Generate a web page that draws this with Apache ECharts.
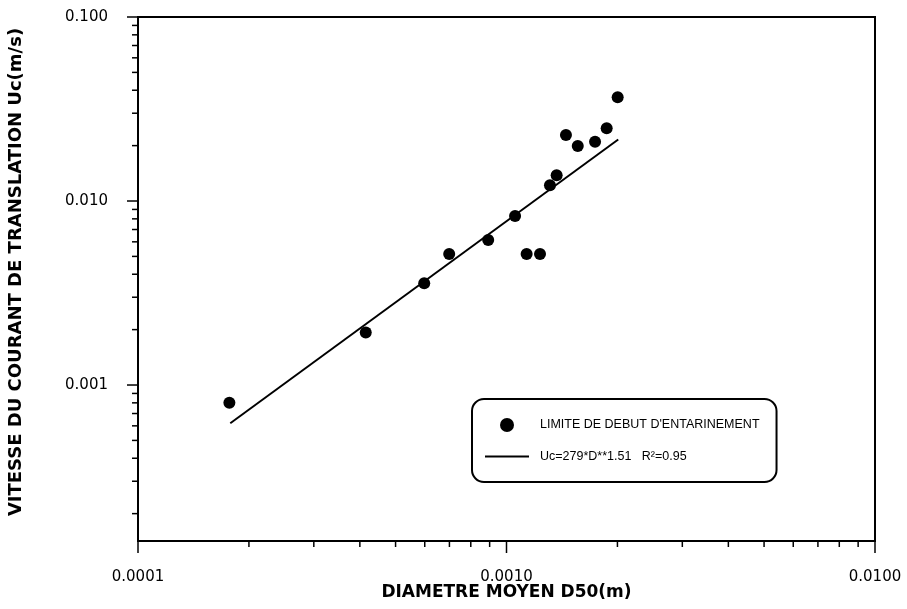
<!DOCTYPE html>
<html>
<head>
<meta charset="utf-8">
<script src="https://cdn.jsdelivr.net/npm/echarts@6/dist/echarts.min.js"></script>
<style>html,body{margin:0;padding:0;background:#fff}#c{width:907px;height:609px}</style>
</head>
<body>
<div id="c"></div>
<script>
// ---- data ----
const diameters = [0.000177, 0.000415, 0.000598, 0.000699, 0.000892, 0.001055, 0.001134, 0.001233, 0.001312, 0.001368, 0.00145, 0.001561, 0.001739, 0.00187, 0.002003];
const velocities = [0.00080, 0.00193, 0.00357, 0.00515, 0.00614, 0.00829, 0.00515, 0.00515, 0.01217, 0.01379, 0.02285, 0.01990, 0.02100, 0.02484, 0.03660];
const fitD = [0.000178, 0.00201];
const fitU = [0.00062, 0.0216];
const X_RANGE = [0.0001, 0.01];
const Y_RANGE = [0.000142, 0.1];
const X_MAJOR = [0.0001, 0.001, 0.01];
const X_MINOR = [0.0002, 0.0003, 0.0004, 0.0005, 0.0006, 0.0007, 0.0008, 0.0009,
                 0.002, 0.003, 0.004, 0.005, 0.006, 0.007, 0.008, 0.009];
const Y_MAJOR = [0.001, 0.01, 0.1];
const Y_MINOR = [0.0002, 0.0003, 0.0004, 0.0005, 0.0006, 0.0007, 0.0008, 0.0009,
                 0.002, 0.003, 0.004, 0.005, 0.006, 0.007, 0.008, 0.009,
                 0.02, 0.03, 0.04, 0.05, 0.06, 0.07, 0.08, 0.09];
const X_LABEL_DIGITS = 4;
const Y_LABEL_DIGITS = 3;
const SCATTER_NAME = "LIMITE DE DEBUT D'ENTARINEMENT";
const FIT_NAME = "Uc=279*D**1.51   R²=0.95";
const X_TITLE = "DIAMETRE MOYEN D50(m)";
const Y_TITLE = "VITESSE DU COURANT DE TRANSLATION Uc(m/s)";

const chart = echarts.init(document.getElementById('c'), null, {renderer: 'canvas'});

function xTickSeries(values, len) {
  return {
    type: 'custom', silent: true, clip: false, legendHoverLink: false,
    data: values.map(v => [v, Y_RANGE[0]]),
    renderItem: function (params, api) {
      const p = api.coord([api.value(0), api.value(1)]);
      return {type: 'line', shape: {x1: p[0], y1: p[1], x2: p[0], y2: p[1] + len},
              style: {stroke: '#000', lineWidth: 1.5}};
    },
    z: 5
  };
}
function yTickSeries(values, len) {
  return {
    type: 'custom', silent: true, clip: false, legendHoverLink: false,
    data: values.map(v => [X_RANGE[0], v]),
    renderItem: function (params, api) {
      const p = api.coord([api.value(0), api.value(1)]);
      return {type: 'line', shape: {x1: p[0], y1: p[1], x2: p[0] - len, y2: p[1]},
              style: {stroke: '#000', lineWidth: 1.5}};
    },
    z: 5
  };
}

const labelFont = {color: '#000', fontFamily: 'DejaVu Sans', fontSize: 15};

chart.setOption({
  animation: false,
  backgroundColor: '#fff',
  grid: {left: 138, right: 32, top: 17, bottom: 68, containLabel: false, outerBoundsMode: 'none',
         show: true, borderColor: '#000', borderWidth: 2, backgroundColor: 'transparent'},
  xAxis: {
    type: 'log', logBase: 10, min: X_RANGE[0], max: X_RANGE[1],
    axisLine: {lineStyle: {color: '#000', width: 2}},
    axisTick: {show: false}, splitLine: {show: false}, minorTick: {show: false},
    axisLabel: Object.assign({margin: 29, formatter: v => Number(v).toFixed(X_LABEL_DIGITS)}, labelFont),
    name: X_TITLE, nameLocation: 'middle', nameGap: 43, nameMoveOverlap: false,
    nameTextStyle: {color: '#000', fontFamily: 'DejaVu Sans', fontWeight: 'bold', fontSize: 17}
  },
  yAxis: {
    type: 'log', logBase: 10, min: Y_RANGE[0], max: Y_RANGE[1],
    axisLine: {lineStyle: {color: '#000', width: 2}},
    axisTick: {show: false}, splitLine: {show: false}, minorTick: {show: false},
    axisLabel: Object.assign({margin: 30, showMinLabel: false, formatter: v => Number(v).toFixed(Y_LABEL_DIGITS)}, labelFont),
    name: Y_TITLE, nameLocation: 'middle', nameGap: 113,
    nameTextStyle: {color: '#000', fontFamily: 'DejaVu Sans', fontWeight: 'bold', fontSize: 18, padding: [0, 0, 0, 14]}
  },
  legend: {
    orient: 'vertical', left: 472, top: 399,
    padding: [19, 17, 19, 13],
    borderColor: '#000', borderWidth: 2, borderRadius: 12,
    backgroundColor: '#fff',
    itemWidth: 44, itemHeight: 14, itemGap: 18,
    textStyle: {color: '#000', fontFamily: 'Liberation Sans', fontSize: 12.5, padding: [0, 0, 0, 6]},
    data: [
      {name: SCATTER_NAME, icon: 'circle', itemStyle: {color: '#000', opacity: 1}},
      {name: FIT_NAME, icon: 'path://M0 0H44V2H0Z', itemStyle: {color: '#000', opacity: 1}}
    ]
  },
  series: [
    {
      name: SCATTER_NAME, type: 'scatter', symbol: 'circle', symbolSize: 12,
      itemStyle: {color: '#000', opacity: 1},
      data: diameters.map((d, i) => [d, velocities[i]]), z: 4
    },
    {
      name: FIT_NAME, type: 'line', symbol: 'none', showSymbol: false,
      lineStyle: {color: '#000', width: 2}, itemStyle: {color: '#000'},
      data: fitD.map((d, i) => [d, fitU[i]]), z: 3
    },
    xTickSeries(X_MAJOR, 12),
    xTickSeries(X_MINOR, 6),
    yTickSeries(Y_MAJOR, 11),
    yTickSeries(Y_MINOR, 6)
  ]
});
</script>
</body>
</html>
